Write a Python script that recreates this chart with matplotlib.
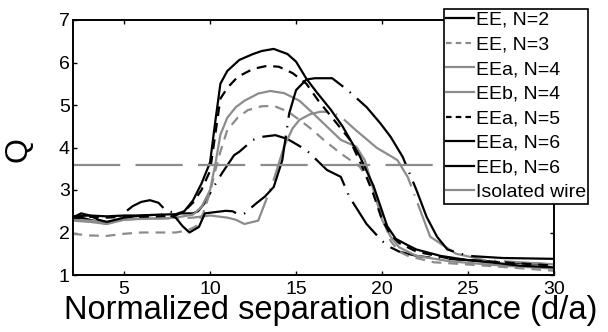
import matplotlib
matplotlib.use("Agg")
import matplotlib.pyplot as plt

plt.rcParams['font.family'] = ['Liberation Sans', 'DejaVu Sans']
plt.rcParams['lines.scale_dashes'] = False

BLACK = '#000000'
GRAY = '#8c8c8c'

# ---- data ----
x_ee2 = [2, 2.5, 3, 3.5, 4, 4.5, 5, 5.5, 6, 6.5, 7, 7.4, 8, 8.5, 9, 9.3, 9.7, 10.1, 10.7, 11.4, 11.7,
         12.5, 13, 13.8, 14.5, 15.6, 16.8, 17.6, 18.1, 19.1, 20, 20.5, 21, 22, 23, 25, 27, 30]
y_ee2 = [2.3, 2.35, 2.3, 2.25, 2.2, 2.3, 2.46, 2.62, 2.72, 2.76, 2.7, 2.53, 2.45, 2.45, 2.45, 2.5, 2.7, 3.0,
         3.4, 3.82, 3.9, 4.18, 4.25, 4.29, 4.2, 3.94, 3.47, 3.31, 2.84, 2.2, 1.8, 1.65, 1.55, 1.45, 1.4,
         1.35, 1.3, 1.25]

x_ee3 = [2, 3, 4, 5, 6, 7, 8, 8.7, 9.2, 9.6, 10, 10.3, 10.6, 11, 11.6, 12.2, 13, 13.7, 14.5, 15.2, 16,
         16.6, 17.6, 18.7, 19.5, 20.1, 20.5, 21, 21.5, 23, 26, 30]
y_ee3 = [1.97, 1.93, 1.92, 1.97, 2.0, 2.0, 2.0, 2.05, 2.15, 2.45, 2.95, 3.45, 3.9, 4.41, 4.7, 4.88, 4.97,
         4.98, 4.85, 4.65, 4.4, 4.18, 3.86, 3.55, 3.07, 2.29, 1.8, 1.55, 1.45, 1.3, 1.22, 1.1]

x_eea4 = [2, 3, 4, 5, 6, 7, 8, 9, 9.5, 10, 10.3, 10.6, 11, 11.5, 12, 12.8, 13.5, 14.3, 15.2, 16, 16.8,
          17.6, 18.5, 19, 19.5, 20, 20.5, 21, 22, 24, 27, 30]
y_eea4 = [2.28, 2.25, 2.2, 2.3, 2.32, 2.33, 2.35, 2.42, 2.6, 3.0, 3.6, 4.3, 4.7, 4.95, 5.1, 5.27, 5.33,
          5.28, 5.1, 4.8, 4.49, 4.18, 4.02, 3.7, 3.0, 2.3, 1.9, 1.65, 1.45, 1.32, 1.22, 1.15]

x_eeb4 = [2, 3, 4, 5, 6, 7, 8, 9, 10, 11, 11.5, 12, 12.8, 13.2, 13.7, 14.3, 14.8, 15.2, 15.8, 16.4, 17.1,
          17.7, 18.5, 19.7, 20.5, 20.9, 21.5, 22, 22.8, 24.3, 26, 28, 30]
y_eeb4 = [2.3, 2.28, 2.25, 2.3, 2.33, 2.33, 2.33, 2.35, 2.4, 2.35, 2.3, 2.2, 2.28, 2.7, 3.24, 4.02, 4.45,
          4.65, 4.78, 4.84, 4.84, 4.69, 4.4, 3.99, 3.8, 3.7, 3.3, 2.76, 1.9, 1.5, 1.35, 1.3, 1.25]

x_eea5 = [2, 3, 4, 5, 6, 7, 8, 8.5, 9, 9.5, 10, 10.3, 10.6, 11, 11.6, 12.5, 13.3, 14, 14.8, 15.6, 16.3,
          17.1, 18.1, 18.9, 19.5, 20, 20.5, 21, 22, 24, 27, 30]
y_eea5 = [2.35, 2.37, 2.35, 2.37, 2.37, 2.38, 2.4, 2.5, 2.7, 3.0, 3.45, 4.3, 5.15, 5.4, 5.66, 5.85, 5.92,
          5.9, 5.75, 5.5, 5.1, 4.7, 4.2, 3.5, 2.9, 2.3, 1.95, 1.75, 1.55, 1.38, 1.3, 1.22]

x_eea6 = [2, 3, 4, 5, 6, 7, 8, 8.5, 9, 9.5, 10, 10.3, 10.6, 11, 11.7, 12.5, 13, 13.7, 14.5, 15, 15.6,
          16.2, 17, 17.7, 18.7, 19.5, 20.3, 20.8, 21.5, 22, 23.4, 25, 26.7, 28, 30]
y_eea6 = [2.38, 2.4, 2.38, 2.4, 2.4, 2.42, 2.43, 2.5, 2.75, 3.15, 3.65, 4.6, 5.5, 5.8, 6.06, 6.2, 6.27,
          6.32, 6.2, 6.02, 5.62, 5.3, 4.9, 4.5, 3.8, 3.1, 2.15, 1.85, 1.7, 1.6, 1.45, 1.35, 1.28, 1.22, 1.18]

x_eeb6 = [2, 2.5, 3, 3.5, 4, 5, 6, 7, 7.5, 8, 8.4, 8.8, 9.35, 9.7, 10.3, 10.9, 11.3, 11.7, 12, 12.7,
          13.2, 13.7, 14.2, 14.6, 15, 15.6, 16.1, 17.1, 18, 19.1, 19.9, 20.5, 21.2, 22, 22.6, 23.2, 23.8,
          25, 27, 30]
y_eeb6 = [2.35, 2.45, 2.4, 2.3, 2.25, 2.35, 2.4, 2.42, 2.42, 2.35, 2.15, 2.0, 2.13, 2.45, 2.48, 2.51, 2.5,
          2.42, 2.45, 2.69, 2.85, 3.07, 3.7, 4.8, 5.35, 5.6, 5.63, 5.63, 5.35, 4.95, 4.57, 4.25, 3.78, 3.0,
          2.36, 1.9, 1.6, 1.45, 1.4, 1.38]

x_iso = [2, 30]
y_iso = [3.6, 3.6]

labels = ['EE, N=2', 'EE, N=3', 'EEa, N=4', 'EEb, N=4', 'EEa, N=5', 'EEa, N=6', 'EEb, N=6',
          'Isolated wire']
x_ticks = [5, 10, 15, 20, 25, 30]
y_ticks = [1, 2, 3, 4, 5, 6, 7]

fig = plt.figure(figsize=(6.08, 3.32), dpi=100)
ax = fig.add_axes([72.5 / 608, 57 / 332, (554 - 72.5) / 608, 255 / 332])

lw = 1.6
ax.plot(x_ee2, y_ee2, color=BLACK, lw=lw, dashes=(30, 6, 1, 6), label=labels[0])
ax.plot(x_ee3, y_ee3, color=GRAY, lw=lw, dashes=(7, 5), label=labels[1])
ax.plot(x_eea4, y_eea4, color=GRAY, lw=lw, label=labels[2])
ax.plot(x_eeb4, y_eeb4, color=GRAY, lw=lw, dashes=(70, 6, 1, 6), label=labels[3])
ax.plot(x_eea5, y_eea5, color=BLACK, lw=lw, dashes=(7, 5), label=labels[4])
ax.plot(x_eea6, y_eea6, color=BLACK, lw=lw, label=labels[5])
ax.plot(x_eeb6, y_eeb6, color=BLACK, lw=lw, dashes=(60, 6, 1, 6), label=labels[6])
ax.plot(x_iso, y_iso, color=GRAY, lw=lw, dashes=(34, 11), label=labels[7])

ax.set_xlim(2, 30)
ax.set_ylim(1, 7)
ax.set_xticks(x_ticks)
ax.set_yticks(y_ticks)
ax.tick_params(direction='in', length=3, width=1, top=True, right=True, labelsize=14)
ax.tick_params(axis='x', pad=4)
ax.tick_params(axis='y', pad=2)
for s in ax.spines.values():
    s.set_linewidth(1.4)

fig.text(19 / 608, 1 - 150 / 332, 'Q', fontsize=23, rotation=90, ha='center', va='center')
fig.text(331 / 608, 1 - 310 / 332, 'Normalized separation distance (d/a)', fontsize=23.5,
         ha='center', va='center')

leg = ax.legend(loc='upper left', bbox_to_anchor=((444 - 72.5) / 481.5, (275 - 9) / 255),
                fontsize=14, frameon=True, fancybox=False, edgecolor='black', framealpha=1,
                handlelength=1.4, handletextpad=0.1, labelspacing=0.36, borderpad=0.12,
                borderaxespad=0)
leg.get_frame().set_linewidth(1.2)
leg_lines = leg.get_lines()
for i in [0, 3, 6, 7]:
    leg_lines[i].set_linestyle('-')
for i in [1, 4]:
    leg_lines[i].set_dashes((4, 3))
leg.set_zorder(5)

fig.savefig('out.png', dpi=100)
